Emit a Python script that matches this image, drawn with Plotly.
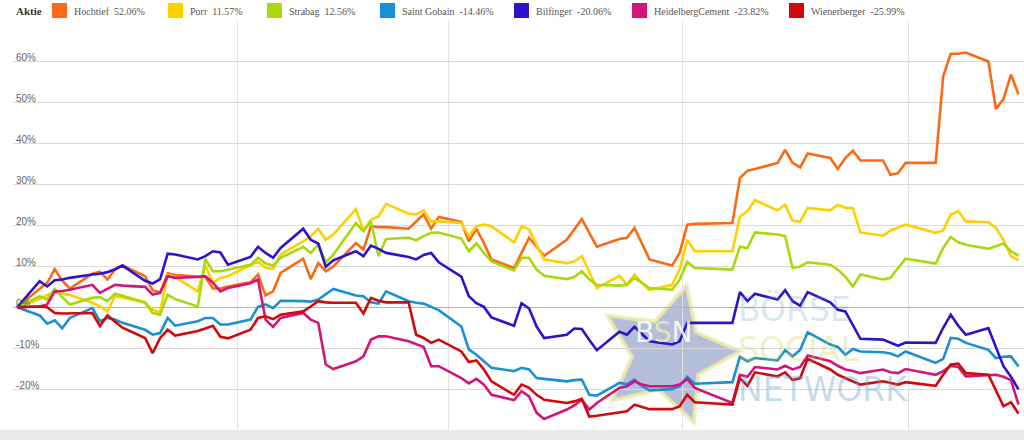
import math
import plotly.graph_objects as go

# --------------------------------------------------------------- #
#### Data ####
# --------------------------------------------------------------- #
# trading days 2015 (closing prices), Good Friday / Easter Monday / 1 May missing
jan_days = [2, 5, 6, 7, 8, 9, 12, 13, 14, 15, 16, 19, 20, 21, 22, 23, 26, 27, 28, 29, 30]
feb_days = [2, 3, 4, 5, 6, 9, 10, 11, 12, 13, 16, 17, 18, 19, 20, 23, 24, 25, 26, 27]
mar_days = [2, 3, 4, 5, 6, 9, 10, 11, 12, 13, 16, 17, 18, 19, 20, 23, 24, 25, 26, 27, 30, 31]
apr_days = [1, 2, 7, 8, 9, 10, 13, 14, 15, 16, 17, 20, 21, 22, 23, 24, 27, 28, 29, 30]
may_days = [4, 5, 6, 7, 8, 11, 12, 13, 14, 15]

dates = [f"2015-{m:02d}-{d:02d} 16:00"
         for m, days in enumerate([jan_days, feb_days, mar_days, apr_days, may_days], 1)
         for d in days]

# performance in % since start
hochtief = [0, 4.5, 6.0, 9.3, 6.5, 4.6, 8.2, 8.7, 6.8, 9.2, 10.3, 7.6, 4.2, 3.6, 8.3, 7.9, 7.6, 7.4, 4.6, 4.6, 5.1,
            6.1, 8.0, 2.9, 3.9, 8.4, 11.9, 6.9, 10.8, 8.8, 10.0, 15.7, 14.1, 19.8, 19.6, 19.6, 19.2, 21.0, 22.7, 19.2, 22.1,
            20.9, 16.1, 19.2, 15.7, 11.7, 9.6, 13.3, 17.0, 14.8, 12.6, 16.5, 19.0, 21.6, 18.2, 14.8, 16.7, 17.0, 19.4, 15.6, 11.7, 10.2, 13.3,
            20.2, 20.4, 20.6, 31.6, 33.4, 33.8, 35.3, 38.5, 35.3, 34.2, 37.6, 36.5, 33.8, 36.5, 38.3, 35.9, 35.9, 32.4, 32.8, 35.3,
            35.3, 56.5, 62.0, 62.0, 62.3, 60.1, 48.5, 50.9, 56.9, 52.06]

porr = [0, 2.0, 3.0, 3.6, 3.4, 3.0, 1.1, 0.3, -1.0, 2.7, 2.4, 1.1, -0.6, -1.2, 8.0, 7.4, 3.9, 10.3, 6.0, 7.2, 7.6,
        10.4, 11.2, 9.6, 9.4, 12.9, 16.1, 17.4, 19.2, 16.5, 17.8, 24.0, 18.8, 21.4, 22.2, 25.3, 22.9, 22.7, 23.7, 21.0, 21.0,
        20.6, 17.4, 19.8, 20.2, 19.8, 15.9, 19.8, 19.0, 15.3, 11.7, 10.8, 11.2, 12.5, 8.4, 4.7, 7.7, 5.5, 8.0, 5.9, 4.2, 5.5, 9.2,
        16.5, 13.7, 13.7, 22.2, 23.5, 26.2, 23.7, 25.1, 21.2, 20.9, 24.3, 23.7, 25.1, 24.3, 24.2, 18.3, 17.5, 18.8, 19.6, 20.2,
        18.2, 18.8, 22.7, 23.5, 21.0, 20.8, 19.4, 16.5, 12.5, 11.57]

strabag = [0, 2.7, 1.9, 4.5, 2.5, 0.7, 2.3, 2.5, 1.5, 3.3, 2.8, 1.2, -1.4, -1.8, 3.1, 2.0, 0.2, 11.8, 8.8, 8.8, 9.2,
           10.4, 12.1, 10.7, 10.2, 12.1, 14.8, 13.3, 15.3, 11.0, 12.9, 20.6, 18.6, 21.0, 12.5, 16.7, 17.0, 16.4, 17.4, 18.2, 18.3,
           16.8, 13.7, 15.6, 13.3, 11.2, 9.0, 12.1, 12.1, 9.2, 7.7, 6.9, 7.4, 8.8, 6.8, 5.5, 5.3, 5.5, 7.2, 5.9, 4.7, 4.3, 6.8,
           11.1, 9.6, 9.2, 14.8, 14.5, 18.3, 17.8, 17.4, 9.6, 10.0, 11.0, 10.4, 9.2, 7.5, 5.1, 8.0, 6.8, 7.2, 9.6, 11.9,
           10.7, 14.5, 17.2, 15.9, 15.3, 14.3, 14.9, 15.6, 13.7, 12.56]

saint_gobain = [0, -2.0, -4.0, -3.2, -5.1, -2.6, -0.2, -3.4, -2.6, -3.0, -3.8, -5.5, -6.7, -6.3, -2.6, -4.5, -3.4, -2.6, -2.6, -4.2, -4.2,
                -3.0, 0.1, 0.7, -0.2, 1.6, 1.5, 1.4, 1.9, 3.3, 4.5, 2.9, 2.7, 1.2, 0.9, 3.9, 1.5, 1.1, 0.9, 0.1, -0.7,
                -4.7, -10.3, -11.6, -13.2, -14.8, -15.6, -14.8, -15.2, -17.3, -17.5, -18.1, -17.8, -17.7, -21.4, -21.6, -18.5, -18.8, -17.7, -19.3, -20.3, -20.0, -19.3,
                -17.0, -18.7, -18.3, -12.1, -13.2, -12.4, -13.0, -10.5, -12.0, -10.4, -6.1, -9.1, -9.7, -11.6, -10.2, -10.8, -11.0, -11.3, -12.0, -10.8,
                -13.6, -12.6, -7.5, -7.7, -8.7, -10.4, -12.4, -12.1, -12.0, -14.46]

bilfinger = [0, 6.4, 5.1, 6.6, 6.8, 7.2, 8.0, 8.2, 8.6, 9.3, 10.2, 6.5, 5.8, 6.9, 13.1, 12.9, 11.7, 12.5, 13.7, 13.4, 10.4,
             12.3, 14.8, 13.3, 12.1, 14.5, 19.2, 16.5, 15.6, 9.9, 11.5, 13.7, 12.5, 15.1, 14.3, 13.3, 12.3, 11.7, 12.8, 13.3, 11.0,
             7.5, 2.7, 1.0, 0.1, -2.5, -4.5, 1.0, -0.3, -4.7, -7.5, -6.7, -5.2, -5.3, -8.0, -10.5, -6.0, -6.7, -4.8, -6.5, -8.3, -9.1, -8.3,
             -3.8, -3.8, -3.8, 3.7, 1.5, 3.3, 1.9, 4.2, 1.5, 0.4, 3.7, 1.2, -0.6, -1.0, -4.5, -7.7, -7.9, -8.6, -9.4, -8.6,
             -8.7, -5.0, -1.8, -4.5, -6.7, -5.1, -9.7, -14.4, -17.0, -20.06]

heidelberg = [0, 0.2, 0.7, 3.9, 4.0, 4.3, 5.5, 3.5, 4.5, 5.5, 5.3, 5.0, 3.1, 3.5, 7.6, 7.2, 7.4, 7.6, 6.0, 3.9, 4.7,
              5.9, 6.8, -3.0, -4.8, -2.6, -1.4, -3.0, -3.8, -14.0, -15.1, -13.2, -12.0, -7.9, -7.1, -7.1, -8.3, -9.1, -9.7, -14.4, -14.4,
              -17.3, -18.6, -17.5, -18.9, -21.4, -22.7, -20.5, -21.8, -25.8, -27.3, -25.0, -24.0, -22.6, -25.0, -23.4, -19.7, -19.3, -18.1, -18.9, -19.3, -19.3, -18.9,
              -17.5, -19.7, -23.4, -16.5, -17.0, -14.6, -15.2, -14.3, -15.2, -14.6, -11.8, -13.2, -14.3, -15.2, -15.6, -16.1, -15.2, -15.9, -16.1, -15.1,
              -16.5, -15.6, -14.3, -14.6, -16.9, -16.5, -16.5, -17.0, -17.8, -23.82]

wienerberger = [0, 0.2, 0.0, -1.4, -1.5, -1.5, -1.4, -4.6, -2.0, -3.5, -5.0, -7.5, -11.2, -7.5, -5.5, -6.9, -5.8, -5.2, -4.5, -7.2, -7.6,
                -5.5, -2.6, -2.2, -2.9, -1.8, -1.0, 0.2, 1.5, 1.2, 1.1, 1.1, -1.5, 2.3, 1.6, 1.2, 1.2, -6.7, -7.5, -8.7, -7.9,
                -10.8, -13.4, -13.0, -15.2, -18.1, -21.4, -18.9, -19.7, -21.4, -22.6, -23.4, -23.0, -22.4, -26.7, -26.5, -25.8, -25.4, -23.8, -24.4, -24.9, -24.9, -24.2,
                -21.4, -23.2, -23.8, -17.3, -19.2, -15.9, -16.9, -15.9, -17.8, -17.3, -12.6, -15.2, -16.5, -17.3, -18.1, -18.9, -18.1, -18.5, -18.9, -18.3,
                -19.2, -16.5, -14.0, -13.8, -16.1, -16.5, -20.5, -24.2, -23.2, -25.99]

names = ["Hochtief", "Porr", "Strabag", "Saint Gobain", "Bilfinger", "HeidelbergCement", "Wienerberger"]
series = [hochtief, porr, strabag, saint_gobain, bilfinger, heidelberg, wienerberger]

y_ticks = [-30, -20, -10, 0, 10, 20, 30, 40, 50, 60, 70]
y_tick_text = ["-30%", "-20%", "-10%", "0%", "10%", "20%", "30%", "40%", "50%", "60%", ""]

# --------------------------------------------------------------- #
#### Style / layout constants ####
# --------------------------------------------------------------- #
colors = ["#fa6a14", "#fdd000", "#a8d80e", "#1a8fd2", "#2b14c9", "#d3157a", "#d00a0a"]
legend_px = [52, 168, 267, 380, 514, 632, 789]

W, H = 1024, 440
L, R, T, B = 13, 0, 21, 10
PW, PH = W - L - R, H - T - B


def px_x(x):
    return (x - L) / PW


def px_y(y):
    return (T + PH - y) / PH


def star_path(cx, cy, r_out, r_in, rot):
    pts = []
    for k in range(10):
        r = r_out if k % 2 == 0 else r_in
        a = math.radians(rot + 36 * k)
        pts.append(f"{px_x(cx + r * math.sin(a)):.4f},{px_y(cy - r * math.cos(a)):.4f}")
    return "M " + " L ".join(pts) + " Z"


# --------------------------------------------------------------- #
#### Figure ####
# --------------------------------------------------------------- #
fig = go.Figure()

for name, vals, col in zip(names, series, colors):
    fig.add_trace(go.Scatter(x=dates, y=vals, mode="lines", name=name,
                             line=dict(color=col, width=2.6), showlegend=False))

shapes = []
annotations = []

# watermark
shapes.append(dict(type="path", xref="paper", yref="paper", layer="below",
                   path=star_path(668, 355, 72, 36, 15),
                   fillcolor="rgba(125,143,190,0.58)",
                   line=dict(color="rgba(235,235,165,0.8)", width=4)))
annotations.append(dict(x=px_x(663), y=px_y(351), xref="paper", yref="paper", showarrow=False,
                        text="B<span style='color:rgba(245,240,170,0.9)'>S</span>N",
                        font=dict(family="DejaVu Sans", size=28, color="rgba(255,255,255,0.85)")))
for word, cy, col in [("BÖRSE", 309, "rgba(100,160,205,0.25)"),
                      ("SOCIAL", 349, "rgba(200,210,60,0.30)"),
                      ("NETWORK", 389, "rgba(100,160,205,0.38)")]:
    annotations.append(dict(x=px_x(736), y=px_y(cy), xref="paper", yref="paper", showarrow=False,
                            xanchor="left", yanchor="middle", text=word,
                            font=dict(family="DejaVu Sans", size=33, color=col)))

# grey band under the plot
shapes.append(dict(type="rect", xref="paper", yref="paper", layer="below",
                   x0=px_x(0), x1=1, y0=px_y(H), y1=0,
                   fillcolor="#e9e9e9", line=dict(width=0)))

# legend row
annotations.append(dict(x=px_x(14), y=px_y(11), xref="paper", yref="paper", showarrow=False,
                        xanchor="left", yanchor="middle", text="<b>Aktie</b>",
                        font=dict(family="Liberation Serif", size=11, color="#333333")))
for name, vals, col, x0 in zip(names, series, colors, legend_px):
    shapes.append(dict(type="rect", xref="paper", yref="paper",
                       x0=px_x(x0), x1=px_x(x0 + 15), y0=px_y(18), y1=px_y(3),
                       fillcolor=col, line=dict(width=0)))
    annotations.append(dict(x=px_x(x0 + 20), y=px_y(11), xref="paper", yref="paper", showarrow=False,
                            xanchor="left", yanchor="middle", text=f"{name}  {vals[-1]:.2f}%",
                            font=dict(family="Liberation Serif", size=10, color="#555555")))

fig.update_layout(
    width=W, height=H,
    margin=dict(l=L, r=R, t=T, b=B),
    paper_bgcolor="white", plot_bgcolor="white",
    showlegend=False,
    shapes=shapes, annotations=annotations,
)
fig.update_xaxes(type="date", range=["2015-01-02 03:00", "2015-05-16 09:30"],
                 tick0="2015-01-01", dtick="M1", showticklabels=False, ticks="",
                 showgrid=True, gridcolor="#e1e1e1", gridwidth=1,
                 zeroline=False, showline=False)
fig.update_yaxes(range=[-30, 70], tickvals=y_ticks, ticktext=y_tick_text,
                 ticklabelposition="inside top", ticklabelshift=3, ticks="",
                 tickfont=dict(family="Liberation Sans", size=10, color="#666666"),
                 showgrid=True, gridcolor="#d9d9d9", gridwidth=1,
                 zeroline=True, zerolinecolor="#b3b3b3", zerolinewidth=1,
                 showline=False)

# the page's default body margin would push the figure off the 1024x440 window
fig.write_html("out.html", config={"displayModeBar": False},
               post_script="document.body.style.margin = '0px';")
